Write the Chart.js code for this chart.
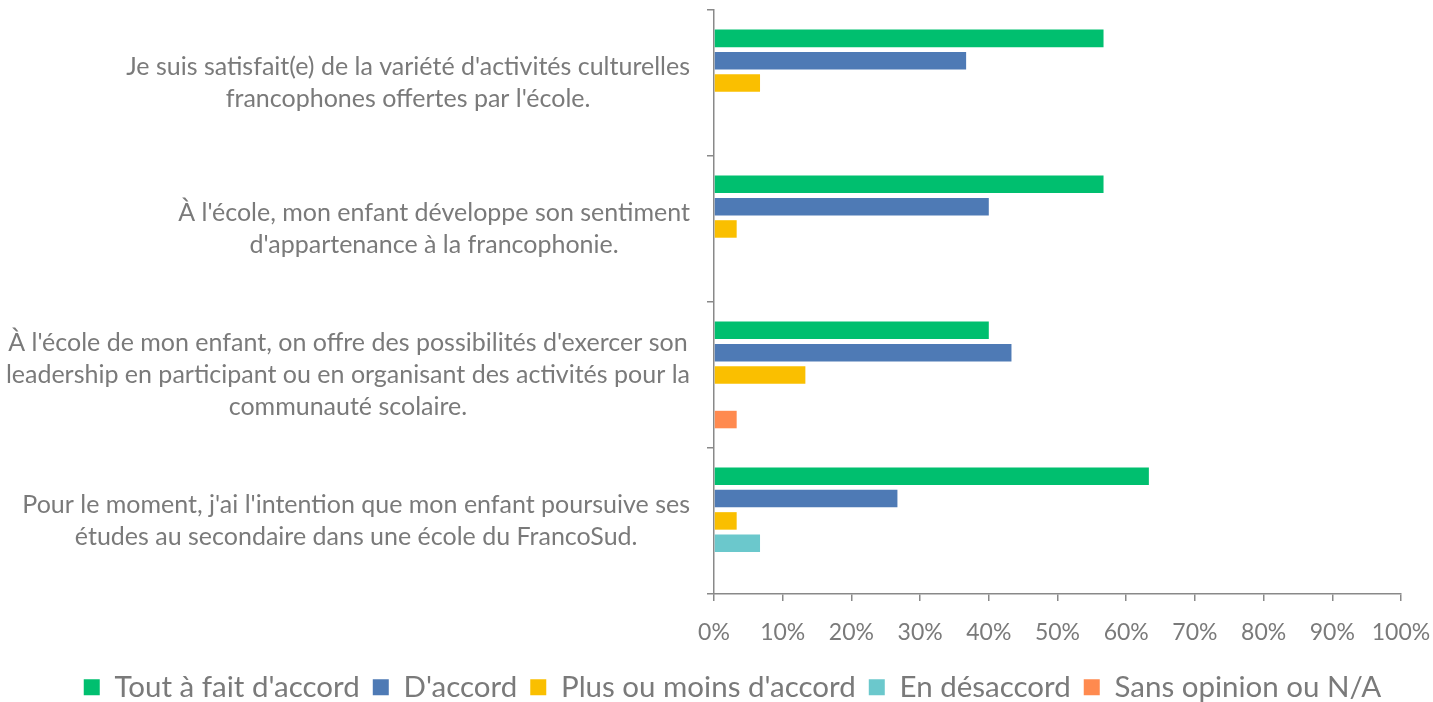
<!DOCTYPE html>
<html>
<head>
<meta charset="utf-8">
<script src="https://cdn.jsdelivr.net/npm/chart.js@4"></script>
<style>
  body { margin: 0; background: #fff; }
  #wrap { width: 1433px; height: 702px; }
</style>
</head>
<body>
<div id="wrap"><canvas id="chart"></canvas></div>
<script>
var categories = [
  ["Je suis satisfait(e) de la variété d'activités culturelles", "francophones offertes par l'école."],
  ["À l'école, mon enfant développe son sentiment", "d'appartenance à la francophonie."],
  ["À l'école de mon enfant, on offre des possibilités d'exercer son", "leadership en participant ou en organisant des activités pour la", "communauté scolaire."],
  ["Pour le moment, j'ai l'intention que mon enfant poursuive ses", "études au secondaire dans une école du FrancoSud."]
]
var toutAFait = [56.7, 56.7, 40.0, 63.3]
var dAccord = [36.7, 40.0, 43.3, 26.7]
var plusOuMoins = [6.7, 3.3, 13.3, 3.3]
var enDesaccord = [0, 0, 0, 6.7]
var sansOpinion = [0, 0, 3.3, 0]
var xTicks = [0, 10, 20, 30, 40, 50, 60, 70, 80, 90, 100]

var gray = '#7a7a7a'
var fontName = 'Lato'

// draws the category labels: block right aligned, lines centred inside the block
var catLabels = {
  id: 'catLabels',
  afterDraw: function(chart) {
    var ctx = chart.ctx
    var yScale = chart.scales.y
    var right = chart.chartArea.left - 24
    var lineH = 32
    ctx.save()
    ctx.font = '25px ' + fontName
    ctx.fillStyle = gray
    ctx.textAlign = 'center'
    ctx.textBaseline = 'middle'
    categories.forEach(function(lines, i) {
      var w = 0
      lines.forEach(function(l) { w = Math.max(w, ctx.measureText(l).width) })
      var cx = right - w / 2
      var cy = yScale.getPixelForTick(i)
      var y0 = cy - (lines.length - 1) * lineH / 2
      lines.forEach(function(l, j) { ctx.fillText(l, cx, y0 + j * lineH) })
    })
    ctx.restore()
  }
}

var ctx = document.getElementById('chart').getContext('2d')
var chart = new Chart(ctx, {
  type: 'bar',
  data: {
    labels: categories,
    datasets: [
      { label: "Tout à fait d'accord", data: toutAFait, backgroundColor: '#00BF6F' },
      { label: "D'accord", data: dAccord, backgroundColor: '#4E7AB5' },
      { label: "Plus ou moins d'accord", data: plusOuMoins, backgroundColor: '#FABF00' },
      { label: "En désaccord", data: enDesaccord, backgroundColor: '#6BC8CC' },
      { label: "Sans opinion ou N/A", data: sansOpinion, backgroundColor: '#FF8A4F' }
    ]
  },
  options: {
    indexAxis: 'y',
    responsive: true,
    maintainAspectRatio: false,
    animation: false,
    categoryPercentage: 0.764,
    barPercentage: 0.785,
    layout: { padding: { left: 64, top: 10, right: 32, bottom: -10 } },
    scales: {
      x: {
        min: 0,
        max: 100,
        afterBuildTicks: function(axis) {
          axis.ticks = xTicks.map(function(v) { return { value: v } })
        },
        afterFit: function(scale) {
          scale.height -= 5
          scale.paddingLeft = 0
          scale.paddingRight = 0
        },
        grid: { drawOnChartArea: false, tickLength: 7, color: '#898989', lineWidth: 1.5 },
        border: { color: '#898989', width: 1.5 },
        ticks: {
          color: gray,
          font: { family: fontName, size: 23 },
          padding: 18,
          callback: function(v) { return v + '%' }
        }
      },
      y: {
        afterFit: function(scale) { scale.width = 650 },
        grid: { drawOnChartArea: false, tickLength: 7, color: '#898989', lineWidth: 1.5 },
        border: { color: '#898989', width: 1.5 },
        ticks: { display: false }
      }
    },
    plugins: {
      legend: {
        position: 'bottom',
        labels: {
          color: gray,
          font: { family: fontName, size: 29.5 },
          boxWidth: 16,
          boxHeight: 16,
          padding: 13
        }
      },
      tooltip: { enabled: false }
    }
  },
  plugins: [catLabels]
})
</script>
</body>
</html>
